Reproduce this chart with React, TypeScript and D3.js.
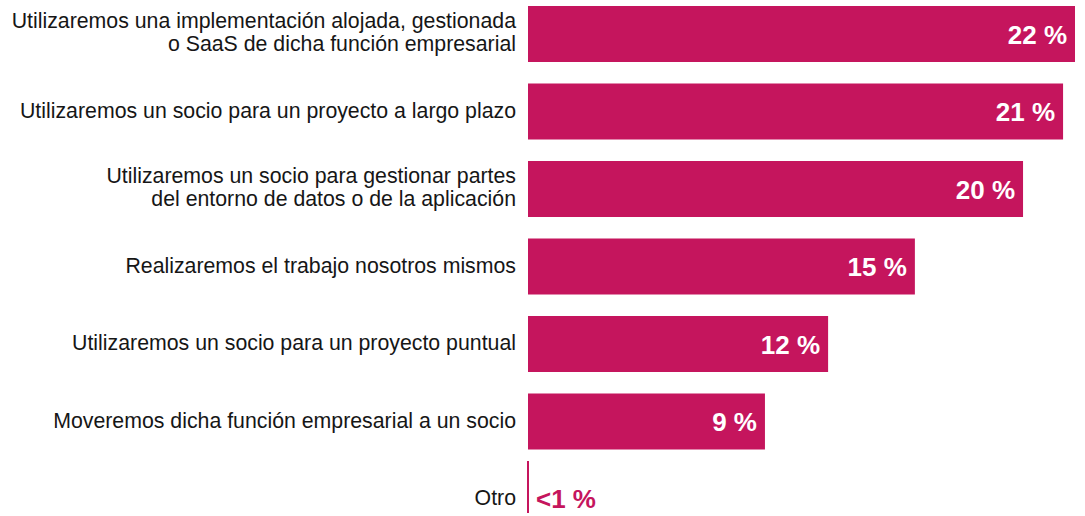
import React from "react";
import * as d3 from "d3";

const categories: string[][] = [
  ["Utilizaremos una implementación alojada, gestionada", "o SaaS de dicha función empresarial"],
  ["Utilizaremos un socio para un proyecto a largo plazo"],
  ["Utilizaremos un socio para gestionar partes", "del entorno de datos o de la aplicación"],
  ["Realizaremos el trabajo nosotros mismos"],
  ["Utilizaremos un socio para un proyecto puntual"],
  ["Moveremos dicha función empresarial a un socio"],
  ["Otro"],
];
const values: number[] = [22, 21.52, 19.91, 15.56, 12.07, 9.53, 0.08];
const valueLabels: string[] = ["22 %", "21 %", "20 %", "15 %", "12 %", "9 %", "<1 %"];

const W = 1085;
const H = 516;
const COLOR = "#C5155D";
const FONT = "'Liberation Sans', Arial, Helvetica, sans-serif";

export default function App() {
  if (typeof document !== "undefined") document.body.style.margin = "0";
  const ids = categories.map((_, i) => String(i));
  const x = d3.scaleLinear().domain([0, 22]).range([528, 1075]);
  const y = d3
    .scaleBand<string>()
    .domain(ids)
    .range([6, 6 + 7 * 77.5 - 21.5])
    .paddingInner(21.5 / 77.5)
    .paddingOuter(0);
  const bw = y.bandwidth();
  const last = ids.length - 1;

  return (
    <svg width={W} height={H} style={{ display: "block" }} fontFamily={FONT}>
      {ids.map((id, i) => {
        const y0 = y(id)!;
        const cy = y0 + bw / 2;
        const isOther = i === last;
        const lines = categories[i];
        const lh = 23;
        const firstBase = cy + 6 - ((lines.length - 1) * lh) / 2 - (lines.length > 1 ? 1 : 0);
        return (
          <g key={id}>
            {isOther ? (
              <rect x={x(0) - 1} y={y0 - 10} width={Math.max(2, x(values[i]) - x(0))} height={bw - 4} fill={COLOR} />
            ) : (
              <rect x={x(0)} y={y0} width={x(values[i]) - x(0)} height={bw} fill={COLOR} />
            )}
            <text x={516} textAnchor="end" fontSize={21.3} fill="#161616">
              {lines.map((l, k) => (
                <tspan key={k} x={516} y={firstBase + k * lh}>
                  {l}
                </tspan>
              ))}
            </text>
            {isOther ? (
              <text x={536} y={cy + 8.5} fontSize={26} fontWeight="bold" fill={COLOR}>
                {valueLabels[i]}
              </text>
            ) : (
              <text x={x(values[i]) - 8} y={cy + 9.5} textAnchor="end" fontSize={26} fontWeight="bold" fill="#ffffff">
                {valueLabels[i]}
              </text>
            )}
          </g>
        );
      })}
    </svg>
  );
}
